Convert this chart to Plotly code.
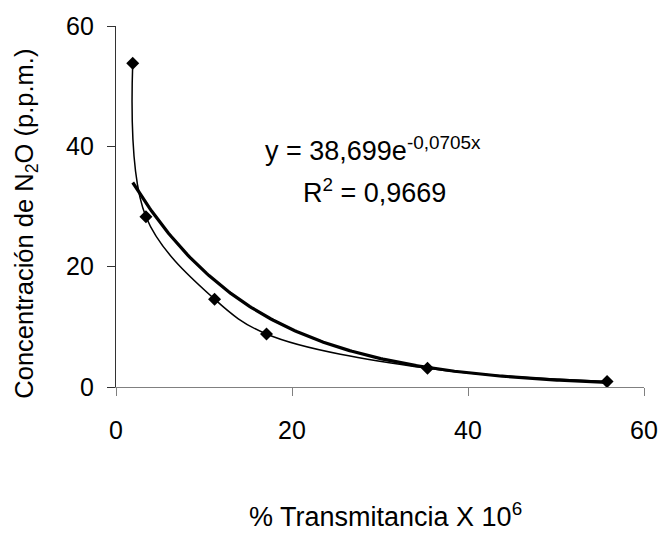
import numpy as np
import plotly.graph_objects as go

# Data
transmitancia = [1.9, 3.4, 11.2, 17.1, 35.4, 55.8]
concentracion = [53.8, 28.3, 14.6, 8.8, 3.1, 0.9]
x_ticks = [0, 20, 40, 60]
y_ticks = [0, 20, 40, 60]

# Exponential trendline fitted to the data (least squares on log y, as Excel does)
slope, intercept = np.polyfit(transmitancia, np.log(concentracion), 1)
x_fit = np.linspace(min(transmitancia), max(transmitancia), 200)
y_fit = np.exp(intercept) * np.exp(slope * x_fit)

W, H = 670, 535
L, R, T, B = 116, 18, 23, 148
pw, ph = W - L - R, H - T - B

def px(xp):
    return (xp - L) / pw

def py(yp):
    return (H - B - yp) / ph

FONT = "Liberation Sans, Arial, sans-serif"

fig = go.Figure()
fig.add_trace(go.Scatter(
    x=x_fit, y=y_fit, mode="lines",
    line=dict(color="black", width=3.2),
    hoverinfo="skip", showlegend=False,
))
fig.add_trace(go.Scatter(
    x=transmitancia, y=concentracion, mode="lines+markers",
    line=dict(color="black", width=1.5, shape="spline", smoothing=1.0),
    marker=dict(symbol="diamond", size=10, color="black"),
    showlegend=False,
))

fig.update_layout(
    width=W, height=H,
    margin=dict(l=L, r=R, t=T, b=B, pad=0),
    paper_bgcolor="white", plot_bgcolor="white",
    font=dict(family=FONT, size=25, color="black"),
    xaxis=dict(
        range=[0, 60], tickvals=x_ticks, ticktext=[str(v) for v in x_ticks],
        showgrid=False, zeroline=False, showline=True, linecolor="#808080", linewidth=1.2,
        ticks="outside", ticklen=8, tickcolor="#808080", tickwidth=1,
        tickfont=dict(size=25), ticklabelstandoff=13,
    ),
    yaxis=dict(
        range=[0, 60], tickvals=y_ticks, ticktext=[str(v) for v in y_ticks],
        showgrid=False, zeroline=False, showline=True, linecolor="#333333", linewidth=1.2,
        ticks="outside", ticklen=8, tickcolor="#333333", tickwidth=1,
        tickfont=dict(size=25), ticklabelstandoff=8,
    ),
    annotations=[
        dict(text="y = 38,699e<sup>-0,0705x</sup>", x=px(377), y=py(147),
             xref="paper", yref="paper", xanchor="center", yanchor="middle",
             showarrow=False, font=dict(size=27)),
        dict(text="R<sup>2</sup> = 0,9669", x=px(378), y=py(189),
             xref="paper", yref="paper", xanchor="center", yanchor="middle",
             showarrow=False, font=dict(size=27)),
        dict(text="Concentración de N<sub>2</sub>O (p.p.m.)", x=px(25), y=py(222),
             xref="paper", yref="paper", xanchor="center", yanchor="middle",
             textangle=-90, showarrow=False, font=dict(size=25.5)),
        dict(text="% Transmitancia X 10<sup>6</sup>", x=px(390), y=py(516),
             xref="paper", yref="paper", xanchor="center", yanchor="middle",
             showarrow=False, font=dict(size=27)),
    ],
)

fig.write_html(
    "out.html",
    config={"displayModeBar": False},
    post_script="document.body.style.margin='0';document.body.style.overflow='hidden';",
)
